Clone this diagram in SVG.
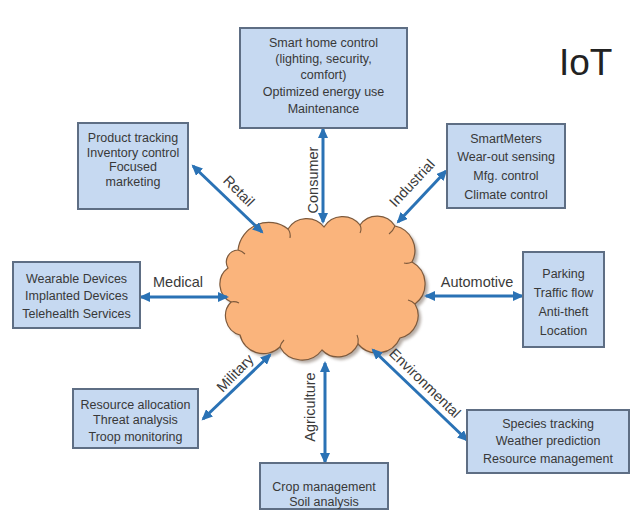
<svg xmlns="http://www.w3.org/2000/svg" width="632" height="511" viewBox="0 0 632 511">
  <style>
    .box { fill: #C6D9F1; stroke: #5E6E84; stroke-width: 2; }
    .bt { font-family: "Liberation Sans", Arial, sans-serif; font-size: 12.5px; fill: #383838; text-anchor: middle; }
    .lbl { font-family: "Liberation Sans", Arial, sans-serif; font-size: 14.5px; fill: #3a3a3a; text-anchor: middle; }
    .link { stroke: #2A72B5; stroke-width: 3; fill: none; marker-start: url(#head); marker-end: url(#head); }
    .crease { fill: none; stroke: #7E5A3C; stroke-width: 1.1; }
  </style>
  <defs>
    <marker id="head" markerUnits="userSpaceOnUse" markerWidth="12" markerHeight="10" refX="9" refY="5" orient="auto-start-reverse">
      <path d="M0,0 L11,5 L0,10 z" fill="#2A72B5"/>
    </marker>
    <filter id="soft" x="-10%" y="-10%" width="120%" height="120%">
      <feGaussianBlur stdDeviation="1.6"/>
    </filter>
    <path id="cloudShape" d="M238,250 A31,31 0 0 1 288,229 A22,22 0 0 1 324,227 A22,22 0 0 1 360,225 A21,21 0 0 1 395,226 A25,25 0 0 1 412,262 A25,25 0 0 1 415,304 A23,23 0 0 1 400,338 A25,25 0 0 1 358,344 A22,22 0 0 1 322,350 A25,25 0 0 1 280,347 A24,24 0 0 1 240,335 A20,20 0 0 1 231,302 A20,20 0 0 1 228,268 A12,12 0 0 1 238,250 Z"/>
  </defs>

  <rect width="632" height="511" fill="#FFFFFF"/>

  <!-- central cloud -->
  <g id="cloud">
    <use href="#cloudShape" transform="translate(3,3)" fill="#7A6A5F" opacity="0.55" filter="url(#soft)"/>
    <use href="#cloudShape" fill="#FAB47C" stroke="#7E5A3C" stroke-width="1.2"/>
    <path class="crease" d="M288,229 q3,4 2,9"/>
    <path class="crease" d="M360,225 q2,4 0,8"/>
    <path class="crease" d="M395,226 q-2,5 -6,8"/>
    <path class="crease" d="M412,262 q-4,2 -8,1"/>
    <path class="crease" d="M415,304 q-3,-3 -7,-4"/>
    <path class="crease" d="M358,344 q1,-5 -1,-9"/>
    <path class="crease" d="M280,347 q1,-4 4,-7"/>
    <path class="crease" d="M231,302 q4,-1 8,1"/>
    <path class="crease" d="M238,250 q4,1 7,4"/>
  </g>

  <!-- connectors -->
  <g id="connectors">
    <line class="link" x1="193" y1="166" x2="262" y2="232"/>
    <line class="link" x1="323" y1="129" x2="323" y2="222"/>
    <line class="link" x1="446" y1="171" x2="398" y2="222"/>
    <line class="link" x1="141" y1="297" x2="227" y2="297"/>
    <line class="link" x1="426" y1="296" x2="522" y2="296"/>
    <line class="link" x1="203" y1="419" x2="270" y2="355"/>
    <line class="link" x1="325" y1="363" x2="325" y2="462"/>
    <line class="link" x1="373" y1="350" x2="467" y2="440"/>

    <text class="lbl" transform="translate(239,191) rotate(45)" y="5">Retail</text>
    <text class="lbl" transform="translate(313,180) rotate(-90)" y="5">Consumer</text>
    <text class="lbl" transform="translate(412,183) rotate(-47)" y="5">Industrial</text>
    <text class="lbl" x="178" y="287">Medical</text>
    <text class="lbl" x="477" y="287">Automotive</text>
    <text class="lbl" transform="translate(235,373) rotate(-46)" y="5">Military</text>
    <text class="lbl" transform="translate(310,407) rotate(-90)" y="5">Agriculture</text>
    <text class="lbl" transform="translate(425,383) rotate(44)" y="5">Environmental</text>
  </g>

  <!-- application areas -->
  <g id="consumer">
    <rect class="box" x="240" y="28" width="167" height="100"/>
    <text class="bt" x="323.5" y="46.5">Smart home control</text>
    <text class="bt" x="323.5" y="62.5">(lighting, security,</text>
    <text class="bt" x="323.5" y="79">comfort)</text>
    <text class="bt" x="323.5" y="95.5">Optimized energy use</text>
    <text class="bt" x="323.5" y="112.5">Maintenance</text>
  </g>

  <g id="retail">
    <rect class="box" x="78" y="123" width="110" height="86"/>
    <text class="bt" x="133" y="142">Product tracking</text>
    <text class="bt" x="133" y="156.5">Inventory control</text>
    <text class="bt" x="133" y="171">Focused</text>
    <text class="bt" x="133" y="185.5">marketing</text>
  </g>

  <g id="industrial">
    <rect class="box" x="447" y="124" width="118" height="84"/>
    <text class="bt" x="506" y="142.5">SmartMeters</text>
    <text class="bt" x="506" y="161">Wear-out sensing</text>
    <text class="bt" x="506" y="179.5">Mfg. control</text>
    <text class="bt" x="506" y="198.5">Climate control</text>
  </g>

  <g id="medical">
    <rect class="box" x="13" y="262" width="127" height="66"/>
    <text class="bt" x="76.5" y="282.5">Wearable Devices</text>
    <text class="bt" x="76.5" y="300">Implanted Devices</text>
    <text class="bt" x="76.5" y="318">Telehealth Services</text>
  </g>

  <g id="automotive">
    <rect class="box" x="523" y="252" width="81" height="95"/>
    <text class="bt" x="563.5" y="277.5">Parking</text>
    <text class="bt" x="563.5" y="296.5">Traffic flow</text>
    <text class="bt" x="563.5" y="315.5">Anti-theft</text>
    <text class="bt" x="563.5" y="334.5">Location</text>
  </g>

  <g id="military">
    <rect class="box" x="73" y="389" width="125" height="59"/>
    <text class="bt" x="135.5" y="408.5">Resource allocation</text>
    <text class="bt" x="135.5" y="424">Threat analysis</text>
    <text class="bt" x="135.5" y="440.5">Troop monitoring</text>
  </g>

  <g id="agriculture">
    <rect class="box" x="260" y="463" width="128" height="46"/>
    <text class="bt" x="324" y="490.5">Crop management</text>
    <text class="bt" x="324" y="506">Soil analysis</text>
  </g>

  <g id="environmental">
    <rect class="box" x="467" y="410" width="162" height="63"/>
    <text class="bt" x="548" y="427.5">Species tracking</text>
    <text class="bt" x="548" y="444.5">Weather prediction</text>
    <text class="bt" x="548" y="462.5">Resource management</text>
  </g>

  <text x="559" y="75" font-family="'Liberation Sans', Arial, sans-serif" font-size="37" fill="#222222">IoT</text>
</svg>
